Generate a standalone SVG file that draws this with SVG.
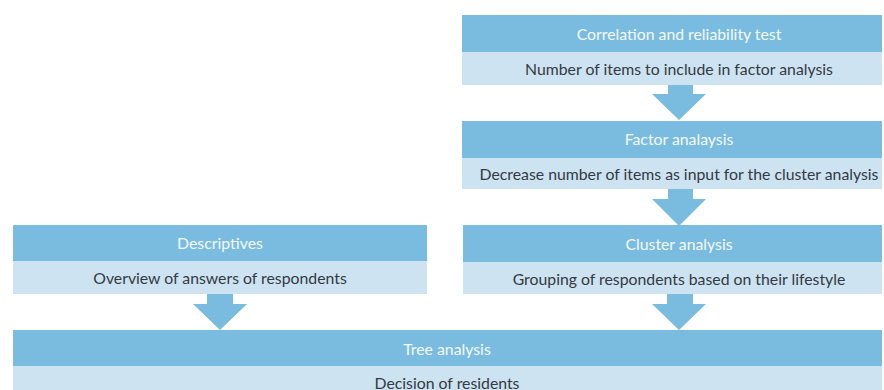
<svg xmlns="http://www.w3.org/2000/svg" width="884" height="390" viewBox="0 0 884 390">
<style>
.hd{fill:#7abcdf}
.bd{fill:#cde3f1}
.ht{font-family:Lato,"Noto Sans",sans-serif;font-size:15.8px;fill:#f4f9fc;text-anchor:middle;dominant-baseline:central}
.bt{font-family:Lato,"Noto Sans",sans-serif;font-size:15.8px;fill:#333a44;text-anchor:middle;dominant-baseline:central}
.ar{fill:#7abcdf}
</style>
<rect width="884" height="390" fill="#ffffff"/>
<g id="correlation">
<rect class="hd" x="462" y="15" width="420" height="37"/>
<rect class="bd" x="462" y="52" width="420" height="33"/>
<text class="ht" x="679" y="33">Correlation and reliability test</text>
<text class="bt" x="679" y="68">Number of items to include in factor analysis</text>
</g>
<g id="factor">
<rect class="hd" x="462" y="121" width="420" height="37"/>
<rect class="bd" x="462" y="158" width="420" height="31"/>
<text class="ht" x="679" y="138">Factor analaysis</text>
<text class="bt" x="679" y="173">Decrease number of items as input for the cluster analysis</text>
</g>
<g id="cluster">
<rect class="hd" x="463" y="225" width="419" height="37"/>
<rect class="bd" x="463" y="262" width="419" height="32"/>
<text class="ht" x="679" y="243">Cluster analysis</text>
<text class="bt" x="679" y="278">Grouping of respondents based on their lifestyle</text>
</g>
<g id="descriptives">
<rect class="hd" x="13" y="225" width="414" height="36"/>
<rect class="bd" x="13" y="261" width="414" height="33"/>
<text class="ht" x="220" y="242">Descriptives</text>
<text class="bt" x="220" y="277">Overview of answers of respondents</text>
</g>
<g id="tree">
<rect class="hd" x="13" y="330" width="869" height="36"/>
<rect class="bd" x="13" y="366" width="869" height="24"/>
<text class="ht" x="447" y="348">Tree analysis</text>
<text class="bt" x="447" y="382">Decision of residents</text>
</g>
<g id="connectors">
<polygon class="ar" points="668,85 693,85 693,94 706,94 679,120 652,94 668,94"/>
<polygon class="ar" points="668,189 693,189 693,199 706,199 679,226 652,199 668,199"/>
<polygon class="ar" points="207,294 233,294 233,304 247,304 220,330 193,304 207,304"/>
<polygon class="ar" points="667,294 693,294 693,304 706,304 679,330 652,304 667,304"/>
</g>
</svg>
